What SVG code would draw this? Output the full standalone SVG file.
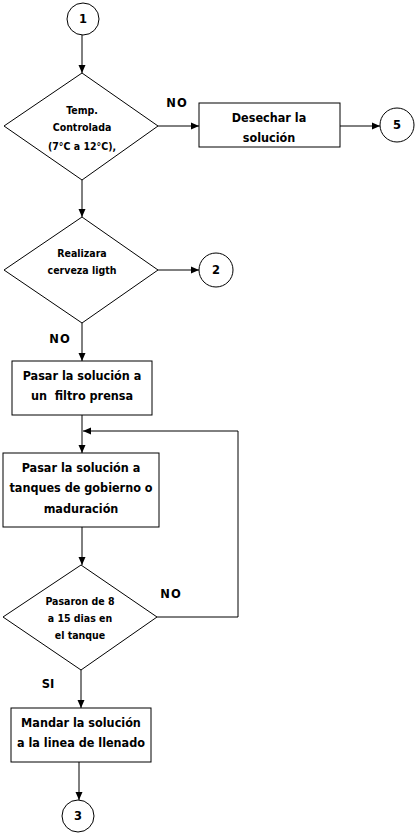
<svg xmlns="http://www.w3.org/2000/svg" width="418" height="837" viewBox="0 0 418 837">
<style>
.s{fill:#fff;stroke:#000;stroke-width:1}
.c{fill:none;stroke:#000;stroke-width:1}
.t{font-family:"DejaVu Sans Condensed","Liberation Sans",sans-serif;font-weight:bold;font-size:12.5px;text-anchor:middle;fill:#000}
.d{font-family:"DejaVu Sans Condensed","Liberation Sans",sans-serif;font-weight:bold;font-size:10.5px;text-anchor:middle;fill:#000}
.l{font-family:"DejaVu Sans","Liberation Sans",sans-serif;font-weight:bold;font-size:11.5px;text-anchor:middle;fill:#000}
</style>
<defs>
<marker id="a" viewBox="0 0 8 8" refX="8" refY="4" markerWidth="8" markerHeight="8" markerUnits="userSpaceOnUse" orient="auto">
<path d="M0,0.5 L8,4 L0,7.5 Z" fill="#000"/>
</marker>
</defs>
<rect width="418" height="837" fill="#fff"/>
<g id="connectors">
<line class="c" x1="82" y1="35" x2="82" y2="73" marker-end="url(#a)"/>
<line class="c" x1="158" y1="126" x2="199" y2="126" marker-end="url(#a)"/>
<line class="c" x1="340" y1="126" x2="380" y2="126" marker-end="url(#a)"/>
<line class="c" x1="82" y1="180" x2="82" y2="217" marker-end="url(#a)"/>
<line class="c" x1="158" y1="270" x2="199" y2="270" marker-end="url(#a)"/>
<line class="c" x1="82" y1="323" x2="82" y2="361" marker-end="url(#a)"/>
<line class="c" x1="82" y1="415" x2="82" y2="453" marker-end="url(#a)"/>
<polyline class="c" points="157,617 238,617 238,431 83,431" marker-end="url(#a)"/>
<line class="c" x1="82" y1="527" x2="82" y2="565" marker-end="url(#a)"/>
<line class="c" x1="81" y1="670" x2="81" y2="708" marker-end="url(#a)"/>
<line class="c" x1="79" y1="762" x2="79" y2="800" marker-end="url(#a)"/>
<text class="l" x="177" y="107" letter-spacing="1">NO</text>
<text class="l" x="60" y="343" letter-spacing="1">NO</text>
<text class="l" x="171" y="598" letter-spacing="1">NO</text>
<text class="l" x="48" y="688">SI</text>
</g>
<g id="c1"><circle class="s" cx="83" cy="19" r="16"/><text class="l" x="83" y="23">1</text></g>
<g id="d1"><polygon class="s" points="82,73 158,126 82,180 4,126"/>
<text class="d" x="82" y="114">Temp.</text>
<text class="d" x="82" y="131">Controlada</text>
<text class="d" x="82" y="150">(7°C a 12°C),</text></g>
<g id="b1"><rect class="s" x="199" y="103" width="141" height="44"/>
<text class="t" x="269" y="122">Desechar la</text>
<text class="t" x="269" y="142">solución</text></g>
<g id="c5"><circle class="s" cx="397" cy="125" r="17"/><text class="l" x="397" y="129">5</text></g>
<g id="d2"><polygon class="s" points="82,217 158,270 82,323 4,270"/>
<text class="d" x="82" y="257">Realizara</text>
<text class="d" x="82" y="274">cerveza ligth</text></g>
<g id="c2"><circle class="s" cx="216" cy="270" r="17"/><text class="l" x="216" y="274">2</text></g>
<g id="b2"><rect class="s" x="12" y="361" width="140" height="54"/>
<text class="t" x="82" y="380">Pasar la solución a</text>
<text class="t" x="82" y="400">un&#160; filtro prensa</text></g>
<g id="b3"><rect class="s" x="3" y="453" width="156" height="74"/>
<text class="t" x="81" y="472">Pasar la solución a</text>
<text class="t" x="81" y="492">tanques de gobierno o</text>
<text class="t" x="81" y="513">maduración</text></g>
<g id="d3"><polygon class="s" points="81,565 157,617 81,670 3,617"/>
<text class="d" x="80" y="605">Pasaron de 8</text>
<text class="d" x="80" y="622">a 15 dias en</text>
<text class="d" x="80" y="639">el tanque</text></g>
<g id="b4"><rect class="s" x="11" y="708" width="140" height="54"/>
<text class="t" x="81" y="727">Mandar la solución</text>
<text class="t" x="81" y="747">a la linea de llenado</text></g>
<g id="c3"><circle class="s" cx="78" cy="816" r="16"/><text class="l" x="78" y="820">3</text></g>
</svg>
